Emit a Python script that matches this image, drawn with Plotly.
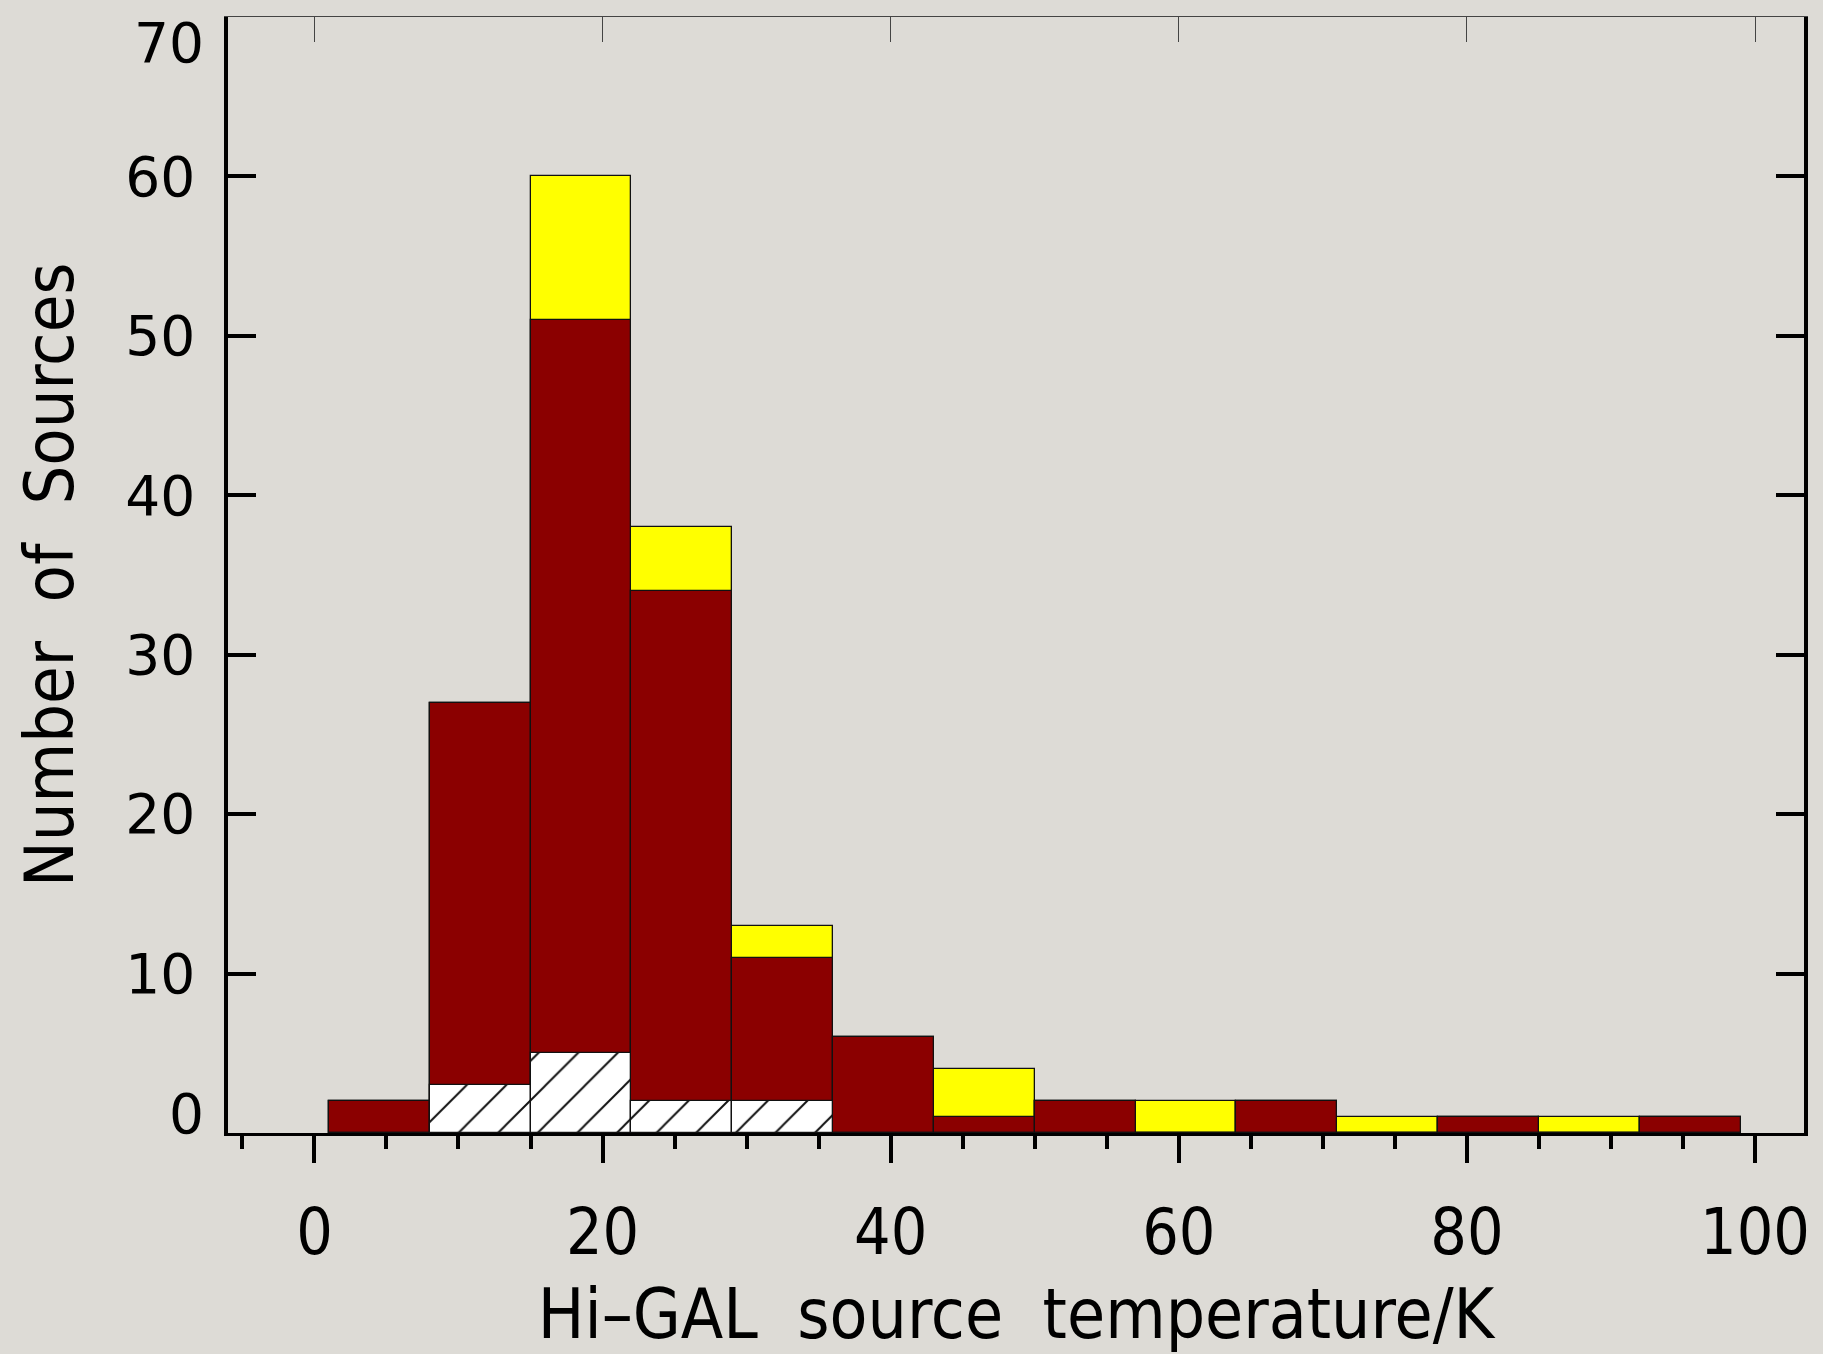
import plotly.graph_objects as go

# ---- data ----
bin_left_edges = [1, 8, 15, 22, 29, 36, 43, 50, 57, 64, 71, 78, 85, 92]
bin_width = 7
total_counts = [2, 27, 60, 38, 13, 6, 4, 2, 2, 2, 1, 1, 1, 1]
red_counts = [2, 27, 51, 34, 11, 6, 1, 2, 0, 2, 0, 1, 0, 1]
hatched_counts = [0, 3, 5, 2, 2, 0, 0, 0, 0, 0, 0, 0, 0, 0]
x_tick_vals = [0, 20, 40, 60, 80, 100]
y_tick_vals = [0, 10, 20, 30, 40, 50, 60, 70]
y_tick_text = ["", "10", "20", "30", "40", "50", "60", ""]

centers = [e + bin_width / 2 for e in bin_left_edges]

BG = "#dddbd6"
OUT = dict(color="#111111", width=1.3)

fig = go.Figure()
fig.add_trace(go.Bar(x=centers, y=total_counts, width=bin_width,
                     marker=dict(color="#ffff00", line=OUT), showlegend=False))
fig.add_trace(go.Bar(x=centers, y=red_counts, width=bin_width,
                     marker=dict(color="#8b0000", line=OUT), showlegend=False))
fig.add_trace(go.Bar(x=centers, y=hatched_counts, width=bin_width,
                     marker=dict(color="white", line=OUT,
                                 pattern=dict(shape="/", fgcolor="#111111",
                                              bgcolor="white", size=28,
                                              solidity=0.07, fillmode="replace")),
                     showlegend=False))
# invisible trace so the top / right frame axes get drawn
fig.add_trace(go.Scatter(x=[None], y=[None], xaxis="x2", yaxis="y2",
                         mode="markers", showlegend=False, hoverinfo="skip"))

narrow = "DejaVu Sans Condensed, Liberation Sans Narrow, Liberation Sans, sans-serif"
wide = "DejaVu Sans, sans-serif"
NB = "\u00a0\u00a0"

fig.update_layout(
    width=1823, height=1354,
    margin=dict(l=228, r=19, t=17, b=221),
    paper_bgcolor=BG, plot_bgcolor=BG,
    barmode="overlay", bargap=0,
    showlegend=False,
    xaxis=dict(range=[-6, 103.4], tickvals=x_tick_vals, ticks="outside",
               ticklen=27, tickwidth=3.5, tickcolor="black",
               showline=True, linewidth=3, linecolor="black",
               showgrid=False, zeroline=False,
               minor=dict(tick0=0, dtick=5, ticks="outside", ticklen=13,
                          tickwidth=3.5, tickcolor="black", showgrid=False),
               tickfont=dict(family=narrow, size=64, color="black"),
               ticklabelstandoff=14,
               title=dict(text="Hi–GAL" + NB + "source" + NB + "temperature/K",
                          font=dict(family=narrow, size=69, color="black"),
                          standoff=26)),
    xaxis2=dict(range=[-6, 103.4], overlaying="x", side="top",
                tickvals=x_tick_vals, ticks="inside", ticklen=25, tickwidth=1.3,
                tickcolor="#444444", showline=True, linewidth=1.3,
                linecolor="#444444", showticklabels=False, showgrid=False,
                zeroline=False),
    yaxis=dict(range=[0, 70], tickvals=y_tick_vals, ticktext=y_tick_text,
               ticks="inside", ticklen=28, tickwidth=3.5, tickcolor="black",
               showline=True, linewidth=3.5, linecolor="black",
               showgrid=False, zeroline=False,
               tickfont=dict(family=wide, size=55, color="black"),
               ticklabelstandoff=18),
    yaxis2=dict(range=[0, 70], overlaying="y", side="right",
                tickvals=y_tick_vals, ticks="inside", ticklen=28, tickwidth=3.5,
                tickcolor="black", showline=True, linewidth=3.5,
                linecolor="black", showticklabels=False, showgrid=False,
                zeroline=False),
)

# y-axis title placed as rotated text left of the tick labels
fig.add_annotation(x=0, xref="paper", xanchor="center", xshift=-179,
                   y=0.5, yref="paper", yanchor="middle",
                   text="Number" + NB + "of" + NB + "Sources", textangle=-90,
                   showarrow=False,
                   font=dict(family=narrow, size=68, color="black"))

# end labels of the y axis are pulled inside the frame
for val, txt, shift in [(0, "0", 19), (70, "70", -26)]:
    fig.add_annotation(x=0, xref="paper", xanchor="right", xshift=-22,
                       y=val, yref="y", yanchor="middle", yshift=shift,
                       text=txt, showarrow=False,
                       font=dict(family=wide, size=55, color="black"))

fig.write_html("out.html")
